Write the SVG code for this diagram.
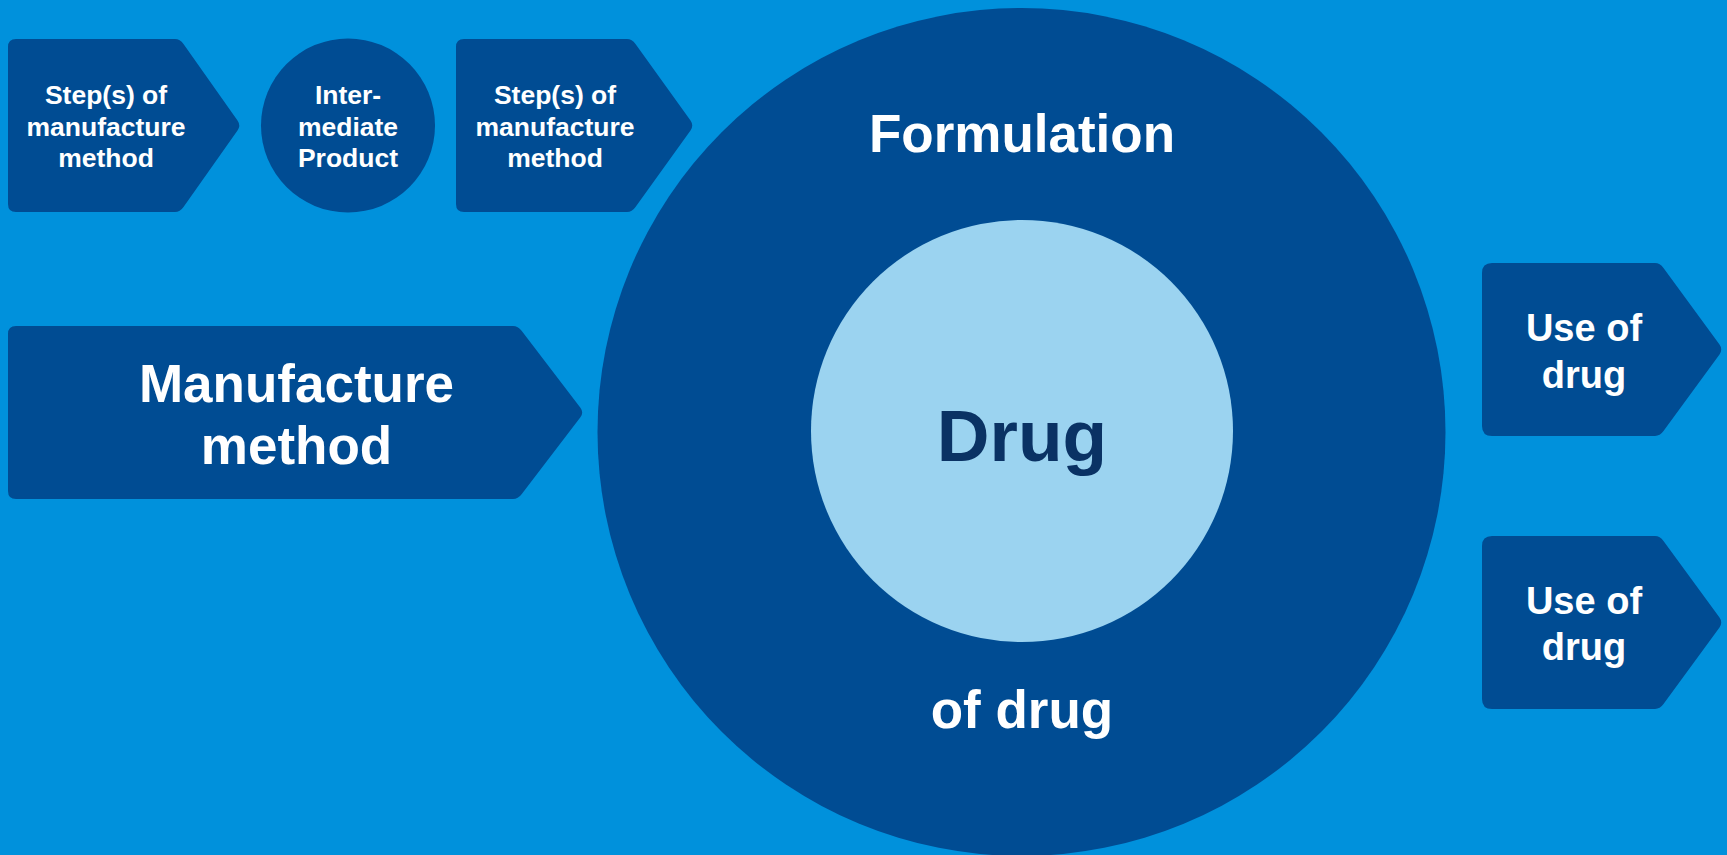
<svg xmlns="http://www.w3.org/2000/svg" width="1727" height="855" viewBox="0 0 1727 855">
<style>
.bg{fill:#0091dc}
.dark{fill:#004c93}
.light{fill:#9bd3f0}
.t{font-family:"Liberation Sans",Arial,sans-serif;font-weight:bold;fill:#ffffff;text-anchor:middle}
.s{font-size:26.5px}
.m{font-size:53px}
.u{font-size:38px}
.drug{font-family:"Liberation Sans",Arial,sans-serif;font-weight:bold;fill:#0a3264;text-anchor:middle;font-size:73px}
</style>
<rect class="bg" x="0" y="0" width="1727" height="855"/>
<g id="formulation">
<circle class="dark" cx="1021.5" cy="432" r="424"/>
<text class="t m" x="1022" y="151.5">Formulation</text>
<text class="t m" x="1022" y="727.5">of drug</text>
</g>
<g id="drug">
<circle class="light" cx="1022" cy="431" r="211"/>
<text class="drug" x="1022" y="460.5">Drug</text>
</g>
<g id="step1">
<path class="dark" d="M16,39 H175 Q180,39 183.5,44 L237.5,120.5 Q241,125.5 237.5,130.5 L183.5,207 Q180,212 175,212 H16 Q8,212 8,204 V47 Q8,39 16,39 Z"/>
<text class="t s" x="106" y="104">Step(s) of</text>
<text class="t s" x="106" y="135.5">manufacture</text>
<text class="t s" x="106" y="166.5">method</text>
</g>
<g id="intermediate">
<circle class="dark" cx="348" cy="125.5" r="87"/>
<text class="t s" x="348" y="104">Inter-</text>
<text class="t s" x="348" y="135.5">mediate</text>
<text class="t s" x="348" y="166.5">Product</text>
</g>
<g id="step2">
<path class="dark" d="M464,39 H627 Q632,39 635.5,44 L690.5,120.5 Q694,125.5 690.5,130.5 L635.5,207 Q632,212 627,212 H464 Q456,212 456,204 V47 Q456,39 464,39 Z"/>
<text class="t s" x="555" y="104">Step(s) of</text>
<text class="t s" x="555" y="135.5">manufacture</text>
<text class="t s" x="555" y="166.5">method</text>
</g>
<g id="manufacture">
<path class="dark" d="M16,326 H513 Q518,326 521.6,330.8 L580.4,407.7 Q584,412.5 580.4,417.3 L521.6,494.2 Q518,499 513,499 H16 Q8,499 8,491 V334 Q8,326 16,326 Z"/>
<text class="t m" x="296.5" y="401.5">Manufacture</text>
<text class="t m" x="296.5" y="464">method</text>
</g>
<g id="use1">
<path class="dark" d="M1492,263 H1655 Q1660,263 1663.5,267.9 L1719.5,344.6 Q1723,349.5 1719.5,354.4 L1663.5,431.1 Q1660,436 1655,436 H1492 Q1482,436 1482,426 V273 Q1482,263 1492,263 Z"/>
<text class="t u" x="1584" y="341">Use of</text>
<text class="t u" x="1584" y="387.5">drug</text>
</g>
<g id="use2">
<path class="dark" d="M1492,536 H1655 Q1660,536 1663.5,540.9 L1719.5,617.6 Q1723,622.5 1719.5,627.4 L1663.5,704.1 Q1660,709 1655,709 H1492 Q1482,709 1482,699 V546 Q1482,536 1492,536 Z"/>
<text class="t u" x="1584" y="613.5">Use of</text>
<text class="t u" x="1584" y="659.5">drug</text>
</g>
<g id="connectors"/>
</svg>
